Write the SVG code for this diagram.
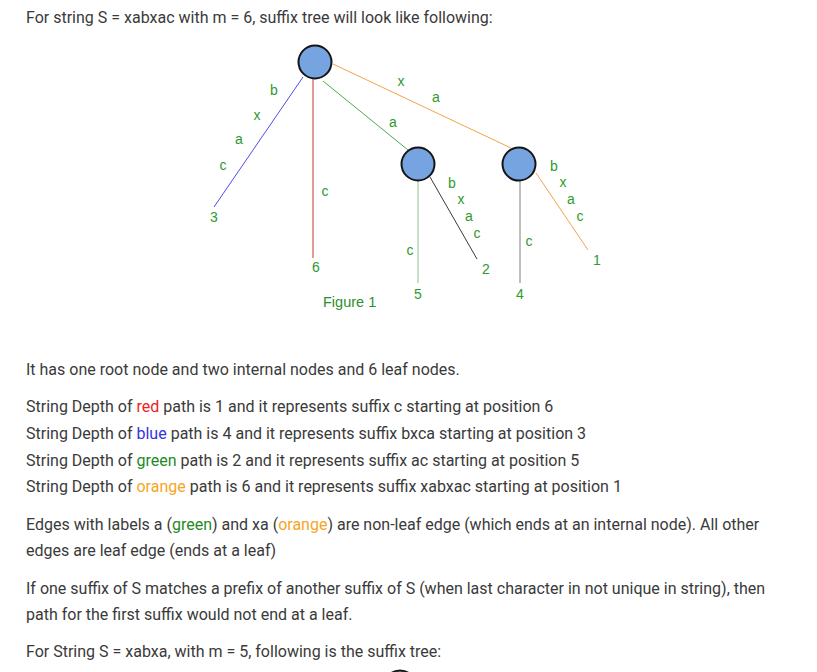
<svg xmlns="http://www.w3.org/2000/svg" width="817" height="672" viewBox="0 0 817 672">
  <style>
    .body { font-family: Roboto, "Liberation Sans", sans-serif; font-size: 16px; fill: #3a3a3a; }
    .lbl { font-family: "Liberation Sans", Arial, sans-serif; font-size: 14px; fill: #2e9a2e; text-anchor: middle; }
    .node { fill: #76a4e0; stroke: #151515; stroke-width: 2; }
    .edge { fill: none; stroke-width: 1; }
  </style>
  <rect width="817" height="672" fill="#fff"/>

  <text class="body" x="26" y="23">For string S = xabxac with m = 6, suffix tree will look like following:</text>

  <!-- tree edges -->
  <g id="connectors">
    <line class="edge" x1="303" y1="77" x2="214" y2="207" stroke="#4d4de8"/>
    <line class="edge" x1="313" y1="79" x2="313" y2="258" stroke="#d33030"/>
    <line class="edge" x1="323" y1="81" x2="408" y2="150" stroke="#4fa84f"/>
    <line class="edge" x1="333" y1="64" x2="511" y2="148" stroke="#f4a24a"/>
    <line class="edge" x1="418" y1="181" x2="418" y2="283" stroke="#8ec48e" stroke-width="2"/>
    <line class="edge" x1="430" y1="177" x2="477" y2="259" stroke="#3a3a3a"/>
    <line class="edge" x1="520" y1="181" x2="520" y2="283" stroke="#7f7f7f" stroke-width="2"/>
    <line class="edge" x1="536" y1="173" x2="588" y2="250" stroke="#f4a24a"/>
  </g>

  <!-- internal nodes -->
  <g id="root"><circle class="node" cx="315" cy="62" r="16.5"/></g>
  <g id="node-a"><circle class="node" cx="418" cy="164" r="16.5"/></g>
  <g id="node-xa"><circle class="node" cx="519" cy="164" r="16.5"/></g>

  <!-- edge labels -->
  <g id="labels-bxca">
    <text class="lbl" x="274" y="95">b</text>
    <text class="lbl" x="257" y="120">x</text>
    <text class="lbl" x="239" y="144">a</text>
    <text class="lbl" x="223" y="170">c</text>
  </g>
  <g id="labels-c"><text class="lbl" x="325" y="196">c</text></g>
  <g id="labels-xa">
    <text class="lbl" x="401" y="86">x</text>
    <text class="lbl" x="436" y="102">a</text>
  </g>
  <g id="labels-a"><text class="lbl" x="393" y="127">a</text></g>
  <g id="labels-bxac-2">
    <text class="lbl" x="452" y="188">b</text>
    <text class="lbl" x="461" y="204">x</text>
    <text class="lbl" x="469" y="221">a</text>
    <text class="lbl" x="477" y="238">c</text>
  </g>
  <g id="labels-bxac-1">
    <text class="lbl" x="554" y="171">b</text>
    <text class="lbl" x="563" y="187">x</text>
    <text class="lbl" x="571" y="204">a</text>
    <text class="lbl" x="580" y="221">c</text>
  </g>
  <g id="labels-c-5"><text class="lbl" x="410" y="255">c</text></g>
  <g id="labels-c-4"><text class="lbl" x="529" y="246">c</text></g>

  <!-- leaves -->
  <g id="leaf-3"><text class="lbl" x="214" y="222">3</text></g>
  <g id="leaf-6"><text class="lbl" x="316" y="272">6</text></g>
  <g id="leaf-5"><text class="lbl" x="418" y="298.5">5</text></g>
  <g id="leaf-2"><text class="lbl" x="486" y="273.5">2</text></g>
  <g id="leaf-4"><text class="lbl" x="520" y="298.5">4</text></g>
  <g id="leaf-1"><text class="lbl" x="597" y="264.5">1</text></g>

  <text x="323" y="307" font-family="'Liberation Sans', Arial, sans-serif" font-size="14.5" fill="#2e8f2e">Figure 1</text>

  <!-- explanation -->
  <text class="body" x="26" y="375">It has one root node and two internal nodes and 6 leaf nodes.</text>
  <text class="body" x="26" y="412">String Depth of <tspan fill="#ee2222">red</tspan> path is 1 and it represents suffix c starting at position 6</text>
  <text class="body" x="26" y="439">String Depth of <tspan fill="#3333dd">blue</tspan> path is 4 and it represents suffix bxca starting at position 3</text>
  <text class="body" x="26" y="465.5">String Depth of <tspan fill="#1f8a1f">green</tspan> path is 2 and it represents suffix ac starting at position 5</text>
  <text class="body" x="26" y="492">String Depth of <tspan fill="#f5a623">orange</tspan> path is 6 and it represents suffix xabxac starting at position 1</text>

  <text class="body" x="26" y="530">Edges with labels a (<tspan fill="#1f8a1f">green</tspan>) and xa (<tspan fill="#f5a623">orange</tspan>) are non-leaf edge (which ends at an internal node). All other</text>
  <text class="body" x="26" y="556">edges are leaf edge (ends at a leaf)</text>
  <text class="body" x="26" y="594">If one suffix of S matches a prefix of another suffix of S (when last character in not unique in string), then</text>
  <text class="body" x="26" y="620">path for the first suffix would not end at a leaf.</text>
  <text class="body" x="26" y="657">For String S = xabxa, with m = 5, following is the suffix tree:</text>

  <!-- top of the next tree's root -->
  <g id="next-root"><circle class="node" cx="400" cy="687" r="16.5"/></g>
</svg>
